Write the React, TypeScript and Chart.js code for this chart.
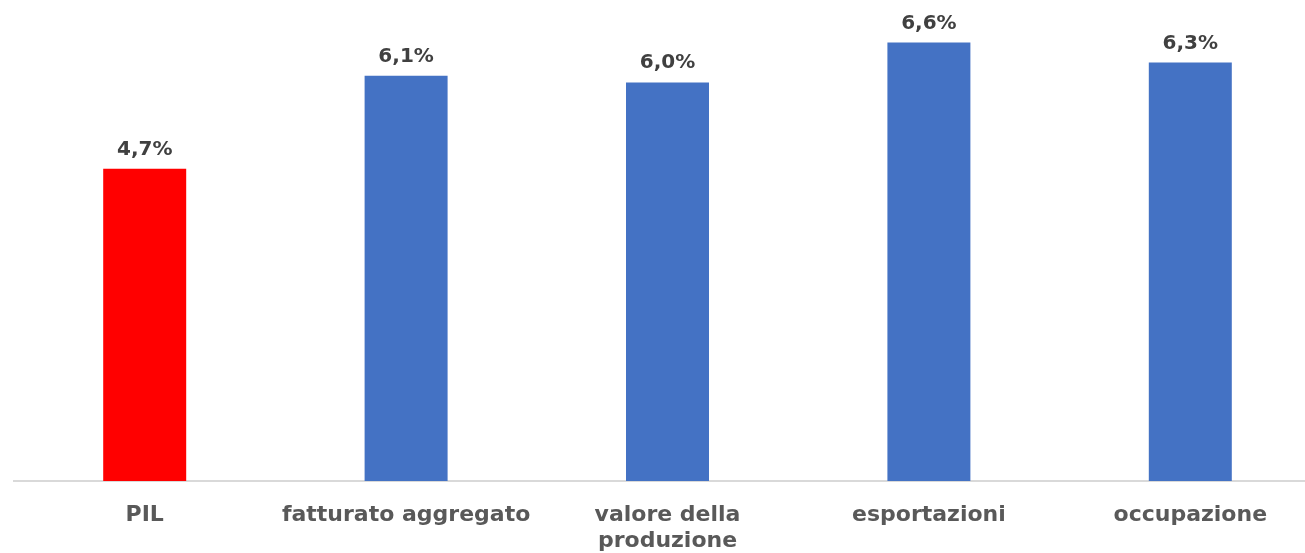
import React, { useEffect, useRef } from "react";
import { Chart, registerables } from "chart.js";

Chart.register(...registerables);

const categories: (string | string[])[] = [
  "PIL",
  "fatturato aggregato",
  ["valore della", "produzione"],
  "esportazioni",
  "occupazione",
];
const values: number[] = [4.7, 6.1, 6.0, 6.6, 6.3];
const barColors: string[] = ["#FF0000", "#4472C4", "#4472C4", "#4472C4", "#4472C4"];

const FONT = "'DejaVu Sans', sans-serif";

const valueLabelPlugin = {
  id: "valueLabels",
  afterDatasetsDraw(chart: any) {
    const ctx = chart.ctx;
    const meta = chart.getDatasetMeta(0);
    ctx.save();
    ctx.font = `bold 20px ${FONT}`;
    ctx.fillStyle = "#404040";
    ctx.textAlign = "center";
    ctx.textBaseline = "alphabetic";
    meta.data.forEach((bar: any, i: number) => {
      const txt = values[i].toFixed(1).replace(".", ",") + "%";
      ctx.fillText(txt, bar.x, bar.y - 14);
    });
    ctx.restore();
  },
};

export default function App() {
  const ref = useRef<HTMLCanvasElement | null>(null);
  useEffect(() => {
    document.body.style.margin = "0";
    document.body.style.overflow = "hidden";
    const chart = new Chart(ref.current!, {
      type: "bar",
      data: {
        labels: categories,
        datasets: [
          {
            data: values,
            backgroundColor: barColors,
            categoryPercentage: 1,
            barPercentage: 0.3175,
          },
        ],
      },
      options: {
        animation: false,
        responsive: true,
        maintainAspectRatio: false,
        layout: { padding: { left: 14, top: 16, right: 0, bottom: 0 } },
        plugins: {
          legend: { display: false },
          tooltip: { enabled: false },
        },
        scales: {
          x: {
            grid: { display: false, drawTicks: false },
            border: { display: true, color: "#d9d9d9", width: 2 },
            ticks: {
              color: "#595959",
              font: { family: FONT, size: 22, weight: "bold", lineHeight: 1.2 },
              padding: 21,
              maxRotation: 0,
              autoSkip: false,
            },
            afterFit(scale: any) {
              scale.height = 72;
            },
          },
          y: {
            display: false,
            min: 0,
            max: 7,
          },
        },
      },
      plugins: [valueLabelPlugin],
    });
    return () => chart.destroy();
  }, []);
  return (
    <div style={{ width: 1321, height: 553, position: "relative" }}>
      <canvas ref={ref} />
    </div>
  );
}
